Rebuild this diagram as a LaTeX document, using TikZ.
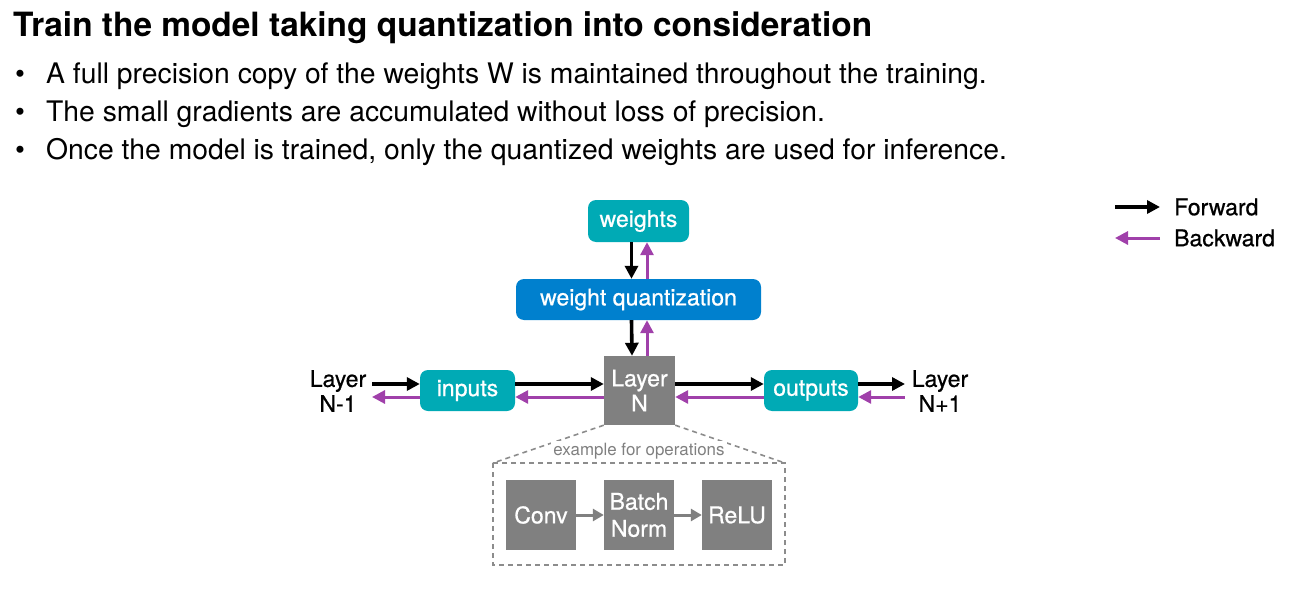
\documentclass[tikz,border=0pt]{standalone}
\usepackage{fontspec}
\setmainfont{TeX Gyre Heros}
\newfontfamily\medfont[FakeBold=0.7]{TeX Gyre Heros}
\usetikzlibrary{arrows.meta}
\definecolor{tealbox}{RGB}{0,170,181}
\definecolor{bluebox}{RGB}{0,128,206}
\definecolor{graybox}{RGB}{128,128,128}
\definecolor{backc}{RGB}{160,64,170}
\definecolor{dashc}{RGB}{140,140,140}
\begin{document}
\begin{tikzpicture}[x=1pt,y=-1pt,
  lbl/.style={font=\medfont\fontsize{23}{25}\selectfont},
  tealnode/.style={lbl,fill=tealbox,text=white,rounded corners=8pt,inner sep=0pt},
  bluenode/.style={lbl,fill=bluebox,text=white,rounded corners=8pt,inner sep=0pt},
  graynode/.style={lbl,fill=graybox,text=white,inner sep=0pt,align=center,
    minimum width=70pt,minimum height=70pt},
  fwd/.style={line width=3.6pt,-{Triangle[length=13pt,width=13pt]}},
  bwd/.style={draw=backc,line width=3pt,-{Triangle[length=13pt,width=13pt]},backc},
  opar/.style={draw=graybox,line width=3pt,-{Triangle[length=11pt,width=12pt]},graybox},
  dashline/.style={dashc,line width=1.6pt,dash pattern=on 5pt off 4pt}]
\useasboundingbox (0,0) rectangle (1291,594);

% heading and bullet list
\node[anchor=base west,font=\fontsize{33.4}{36}\selectfont\bfseries,inner sep=0pt]
  (title) at (13,37) {Train the model taking quantization into consideration};
\foreach \t/\yy [count=\i] in {
  {A full precision copy of the weights W is maintained throughout the training.}/84,
  {The small gradients are accumulated without loss of precision.}/121.5,
  {Once the model is trained, only the quantized weights are used for inference.}/159}{
  \node[anchor=base west,font=\fontsize{28.3}{30}\selectfont,inner sep=0pt]
    (b\i) at (46,\yy) {\t};
  \node[anchor=base,font=\fontsize{28.3}{30}\selectfont,inner sep=0pt]
    (dot\i) at (20,\yy) {•};
}

% main blocks
\node[tealnode,minimum width=101pt,minimum height=42pt] (weights) at (638.5,221) {weights};
\node[bluenode,minimum width=245pt,minimum height=41pt] (wq) at (638.5,299.5) {weight quantization};
\node[graynode,minimum width=71pt,minimum height=69pt] (layer) at (639.5,390.5) {Layer\\N};
\node[tealnode,minimum width=95pt,minimum height=41pt] (inputs) at (467.5,390.5) {inputs};
\node[tealnode,minimum width=94pt,minimum height=41pt] (outputs) at (811,390.5) {outputs};
\node[lbl,align=center,inner sep=0pt] (prev) at (338,391) {Layer\\N-1};
\node[lbl,align=center,inner sep=0pt] (next) at (940,391) {Layer\\N+1};
\coordinate (prevE) at (372,390.5);
\coordinate (nextW) at (905,390.5);

% vertical data flow
\draw[fwd] ([xshift=-7pt]weights.south) -- ([xshift=-7pt]wq.north);
\draw[bwd] ([xshift=8.5pt]wq.north) -- ([xshift=8.5pt]weights.south);
\draw[fwd] ([xshift=-7pt]wq.south) -- ([xshift=-7.5pt]layer.north);
\draw[bwd] ([xshift=7.5pt]layer.north) -- ([xshift=8.5pt]wq.south);

% horizontal data flow: forward above, backward below
\draw[fwd] ([yshift=6.5pt]prevE) -- ([yshift=6.5pt]inputs.west);
\draw[bwd] ([yshift=-6.5pt]inputs.west) -- ([yshift=-6.5pt]prevE);
\draw[fwd] ([yshift=6.5pt]inputs.east) -- ([yshift=6.5pt]layer.west);
\draw[bwd] ([yshift=-6.5pt]layer.west) -- ([yshift=-6.5pt]inputs.east);
\draw[fwd] ([yshift=6.5pt]layer.east) -- ([yshift=6.5pt]outputs.west);
\draw[bwd] ([yshift=-6.5pt]outputs.west) -- ([yshift=-6.5pt]layer.east);
\draw[fwd] ([yshift=6.5pt]outputs.east) -- ([yshift=6.5pt]nextW);
\draw[bwd] ([yshift=-6.5pt]nextW) -- ([yshift=-6.5pt]outputs.east);

% expanded view of the layer's operations
\coordinate (exNW) at (493,463);
\coordinate (exSE) at (785,565);
\draw[dashline] (exNW) rectangle (exSE);
\draw[dashline] (layer.south west) -- (exNW);
\draw[dashline] (layer.south east) -- (exSE |- exNW);
\node[font=\fontsize{16.9}{18}\selectfont,text=graybox,fill=white,inner sep=2pt]
  (extext) at (639,451) {example for operations};
\node[graynode] (conv) at (541,515) {Conv};
\node[graynode,font=\medfont\fontsize{23}{27}\selectfont] (bn) at (639,515) {Batch\\Norm};
\node[graynode] (relu) at (737,515) {ReLU};
\draw[opar] (conv) -- (bn);
\draw[opar] (bn) -- (relu);

% legend
\coordinate (lfA) at (1115,207);
\coordinate (lfB) at (1160,207);
\coordinate (lbA) at (1115,238);
\coordinate (lbB) at (1160,238);
\draw[fwd] (lfA) -- (lfB);
\draw[bwd] (lbB) -- (lbA);
\node[lbl,anchor=west,inner sep=0pt] (fwdtext) at (1174,207) {Forward};
\node[lbl,anchor=west,inner sep=0pt] (bwdtext) at (1174,238) {Backward};
\end{tikzpicture}
\end{document}
